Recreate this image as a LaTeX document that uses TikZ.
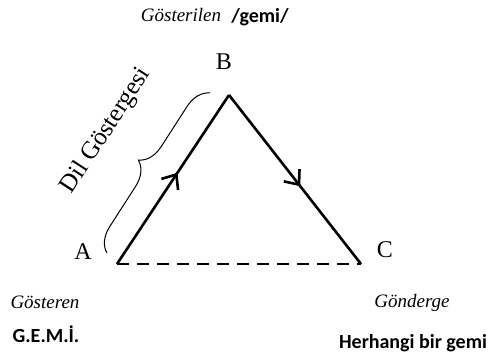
\documentclass[tikz,border=0pt]{standalone}
\usepackage{fontspec}
\setmainfont{Liberation Serif}
\newfontfamily\calibri{Carlito}
\usetikzlibrary{decorations.pathreplacing,decorations.markings,arrows.meta}
\begin{document}
\begin{tikzpicture}
[x=1pt,y=-1pt,
 corner/.style={font=\fontsize{24}{26}\selectfont, inner sep=0pt},
 term/.style={font=\fontsize{19}{21}\selectfont\itshape, inner sep=0pt},
 example/.style={font=\calibri\bfseries\fontsize{20}{22}\selectfont, inner sep=0pt},
 side/.style={line width=2.6pt, postaction={decorate},
   decoration={markings, mark=at position 0.54 with {\arrow{Straight Barb[length=12pt,width=20pt,line width=2.6pt]}}}}]
\useasboundingbox (0,0) rectangle (488,356);
% triangle corners
\coordinate (A) at (117,264);
\coordinate (B) at (229,95);
\coordinate (C) at (361,264);
\node[corner] (a) at (83,252) {A};
\node[corner] (b) at (224,62) {B};
\node[corner] (c) at (385,250) {C};
% sides
\draw[side] (A) -- (B);
\draw[side] (B) -- (C);
\draw[line width=2.6pt, dash pattern=on 12pt off 8pt] (A) -- (C);
% brace
\coordinate (br1) at (107,253);
\coordinate (br2) at (210,93);
\draw[line width=1pt, decorate, decoration={brace, amplitude=24pt}] (br1) -- (br2);
\node[font=\fontsize{25}{27}\selectfont, rotate=57, inner sep=0pt] (dil) at (106,131) {Dil Göstergesi};
% terms
\node[term] (gosterilen) at (181,15) {Gösterilen};
\node[example] (gemi) at (260,17) {/gemi/};
\node[term] (gosteren) at (45,302) {Gösteren};
\node[example] (harf) at (46,334) {G.E.M.İ.};
\node[term] (gonderge) at (412,303) {Gönderge};
\node[example] (herhangi) at (413,343) {Herhangi bir gemi};
\end{tikzpicture}
\end{document}
